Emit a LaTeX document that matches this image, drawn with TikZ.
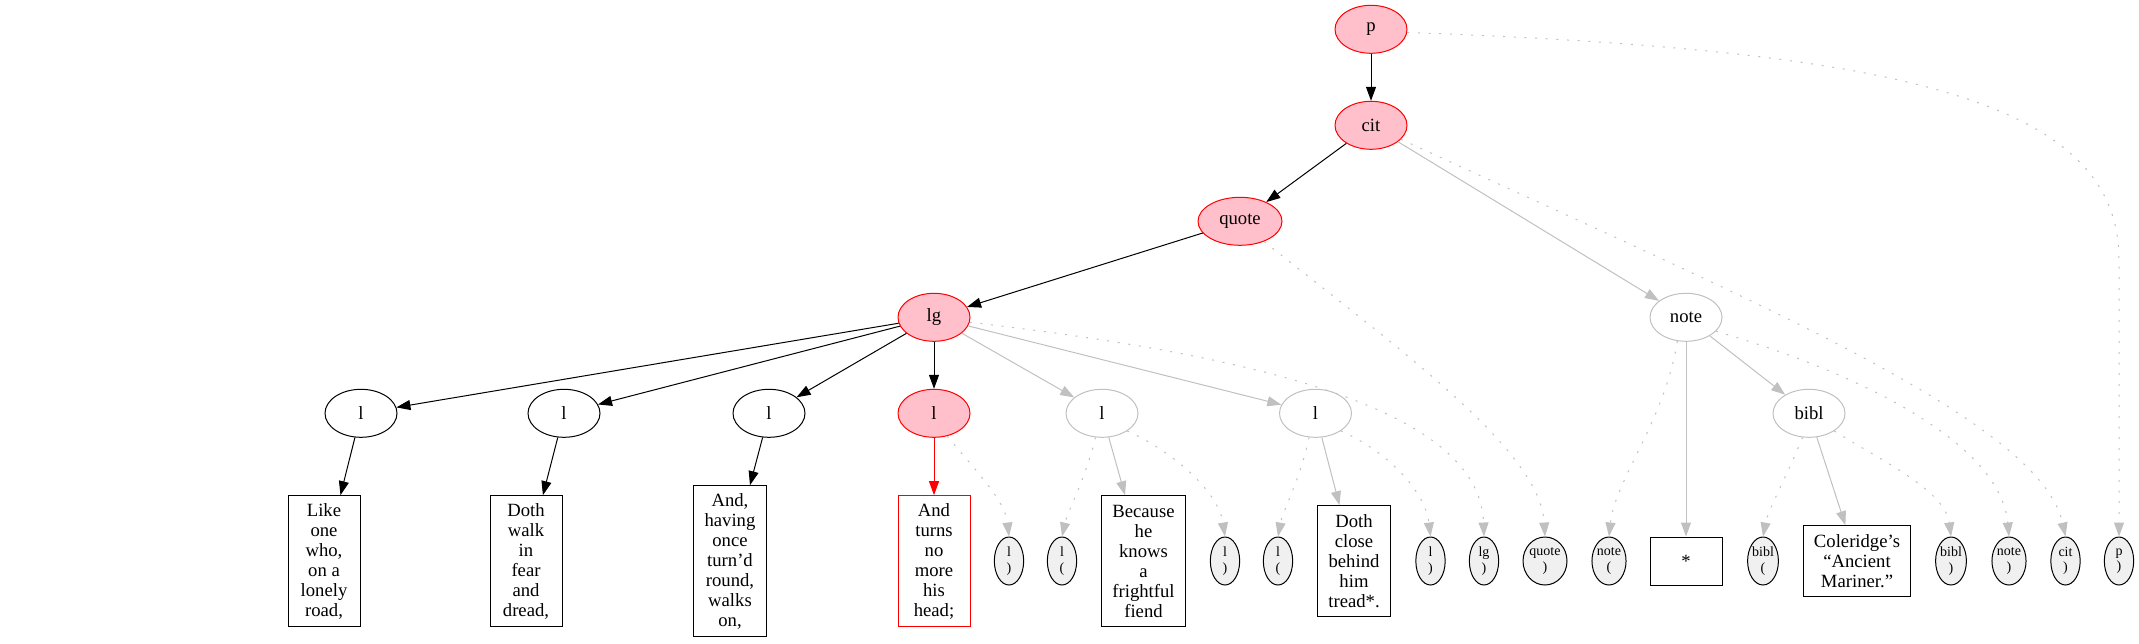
\documentclass[tikz,border=0pt]{standalone}
\usepackage{fontspec}
\setmainfont{Liberation Serif}
\usetikzlibrary{arrows.meta,shapes.geometric}
\definecolor{gvpink}{RGB}{255,192,203}
\definecolor{gvred}{RGB}{255,0,0}
\definecolor{gvgrey}{RGB}{192,192,192}
\definecolor{gvfill}{RGB}{240,240,240}
\begin{document}
\begin{tikzpicture}[x=0.75pt,y=-0.75pt,line width=0.75pt,
  every node/.style={font=\fontsize{14pt}{15pt}\selectfont,align=center,inner sep=0pt},
  elnode/.style={ellipse,draw,minimum width=54pt,minimum height=36pt},
  rednode/.style={elnode,draw=gvred,fill=gvpink},
  greynode/.style={elnode,draw=gvgrey},
  txtbox/.style={rectangle,draw,minimum width=54pt,minimum height=36pt,inner xsep=8pt,inner ysep=4pt},
  marker/.style={ellipse,draw,fill=gvfill,minimum width=22pt,minimum height=36pt,inner sep=0pt,font=\fontsize{10.5pt}{11.5pt}\selectfont},
  tipped/.style={-{Triangle[length=10.5pt,width=7.5pt]}},
  blackedge/.style={tipped,draw=black},
  rededge/.style={tipped,draw=gvred},
  greyedge/.style={tipped,draw=gvgrey},
  dotedge/.style={tipped,draw=gvgrey,dash pattern=on 1.5pt off 6.5pt},
]
\useasboundingbox (0,0) rectangle (2139,643);
% upper ranks
\node[rednode] (p) at (1371,29.3) {p};
\node[rednode] (cit) at (1371,125.3) {cit};
\node[rednode,minimum width=63pt] (quote) at (1240,221.3) {quote};
\node[rednode] (lg) at (934,317.3) {lg};
\node[greynode] (note) at (1686,317.3) {note};
% l row
\node[elnode] (l1) at (361,413.3) {l};
\node[elnode] (l2) at (564,413.3) {l};
\node[elnode] (l3) at (769,413.3) {l};
\node[rednode] (l4) at (934,413.3) {l};
\node[greynode] (l5) at (1102,413.3) {l};
\node[greynode] (l6) at (1315.5,413.3) {l};
\node[greynode] (bibl) at (1809,413.3) {bibl};
% bottom row
\node[txtbox,minimum height=98pt] (Like) at (324,561) {Like\\one\\who,\\on a\\lonely\\road,};
\node[txtbox,minimum height=98pt] (DothWalk) at (526,561) {Doth\\walk\\in\\fear\\and\\dread,};
\node[txtbox,minimum height=113pt] (AndHaving) at (730,561) {And,\\having\\once\\turn’d\\round,\\walks\\on,};
\node[txtbox,draw=gvred,minimum height=98pt] (AndTurns) at (934,561) {And\\turns\\no\\more\\his\\head;};
\node[marker] (lc1) at (1009,561) {l\\)};
\node[marker] (lo1) at (1062,561) {l\\(};
\node[txtbox,minimum height=98pt] (Because) at (1143.5,561) {Because\\he\\knows\\a\\frightful\\fiend};
\node[marker] (lc2) at (1225,561) {l\\)};
\node[marker] (lo2) at (1278,561) {l\\(};
\node[txtbox,minimum height=83pt] (DothClose) at (1354,561) {Doth\\close\\behind\\him\\tread*.};
\node[marker] (lc3) at (1430.5,561) {l\\)};
\node[marker] (lgc) at (1484,561) {lg\\)};
\node[marker] (quotec) at (1545,561) {quote\\)};
\node[marker] (noteo) at (1609,561) {note\\(};
\node[txtbox] (star) at (1686,561) {*};
\node[marker] (biblo) at (1763,561) {bibl\\(};
\node[txtbox,minimum height=53pt] (Cole) at (1857,561) {Coleridge’s\\“Ancient\\Mariner.”};
\node[marker] (biblc) at (1951,561) {bibl\\)};
\node[marker] (notec) at (2009,561) {note\\)};
\node[marker] (citc) at (2065.5,561) {cit\\)};
\node[marker] (pc) at (2119,561) {p\\)};
% black edges
\draw[blackedge] (p) -- (cit);
\draw[blackedge] (cit) -- (quote);
\draw[blackedge] (quote) -- (lg);
\draw[blackedge] (lg) -- (l1);
\draw[blackedge] (lg) -- (l2);
\draw[blackedge] (lg) -- (l3);
\draw[blackedge] (lg) -- (l4);
\draw[blackedge] (l1) -- (Like);
\draw[blackedge] (l2) -- (DothWalk);
\draw[blackedge] (l3) -- (AndHaving);
\draw[rededge] (l4) -- (AndTurns);
% grey edges
\draw[greyedge] (lg) -- (l5);
\draw[greyedge] (lg) -- (l6);
\draw[greyedge] (cit) -- (note);
\draw[greyedge] (l5) -- (Because);
\draw[greyedge] (l6) -- (DothClose);
\draw[greyedge] (note) -- (star);
\draw[greyedge] (note) -- (bibl);
\draw[greyedge] (bibl) -- (Cole);
% dotted edges
\draw[dotedge] (p.-5) .. controls (1900,50) and (2119,100) .. (2119,260) -- (pc.north);
\draw[dotedge] (cit.-25) .. controls (1750,300) and (2040,420) .. (citc.north);
\draw[dotedge] (quote.-40) .. controls (1400,350) and (1540,450) .. (quotec.north);
\draw[dotedge] (lg.-8) .. controls (1300,360) and (1480,420) .. (lgc.north);
\draw[dotedge] (note.-110) .. controls (1665,420) and (1615,480) .. (noteo.north);
\draw[dotedge] (note.-25) .. controls (1850,370) and (2000,440) .. (notec.north);
\draw[dotedge] (bibl.-105) .. controls (1785,480) and (1768,510) .. (biblo.north);
\draw[dotedge] (bibl.-35) .. controls (1880,460) and (1945,490) .. (biblc.north);
\draw[dotedge] (l4.-60) .. controls (975,470) and (1005,500) .. (lc1.north);
\draw[dotedge] (l5.-105) .. controls (1085,480) and (1068,510) .. (lo1.north);
\draw[dotedge] (l5.-35) .. controls (1170,450) and (1218,490) .. (lc2.north);
\draw[dotedge] (l6.-105) .. controls (1300,480) and (1283,510) .. (lo2.north);
\draw[dotedge] (l6.-35) .. controls (1385,450) and (1425,490) .. (lc3.north);
\end{tikzpicture}
\end{document}
